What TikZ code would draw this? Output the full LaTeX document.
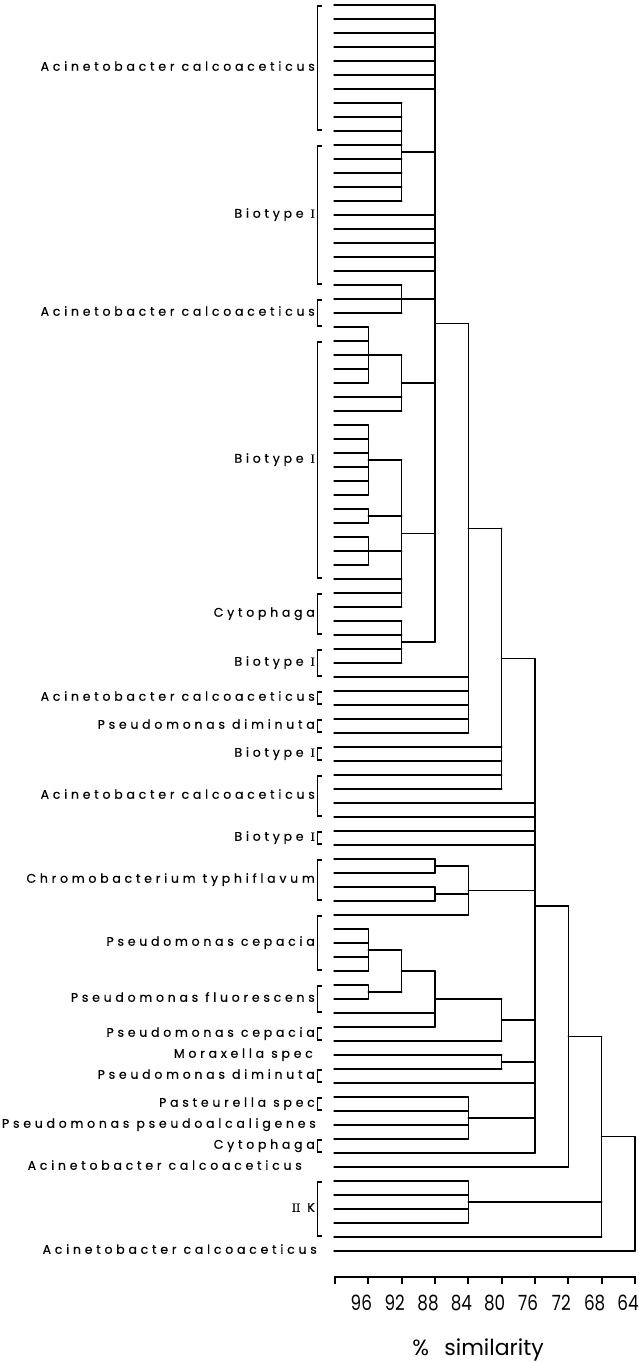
\documentclass[tikz,border=0pt]{standalone}
\usepackage{fontspec}
\setmainfont{Poppins}
\newfontfamily\labfam[LetterSpace=30,FakeBold=0.5]{Poppins}
\newfontfamily\axfam[FakeStretch=0.8]{Poppins}
\newfontfamily\serI[FakeBold=0.5]{Liberation Serif}
\usetikzlibrary{calc}
\newcommand\labfont{\labfam\fontsize{12.5}{14}\selectfont}
\newcommand\axfont{\axfam\fontsize{21}{23}\selectfont}
% cluster: name, level, first child, last child, children
\newcommand\clus[5]{%
  \coordinate (#1) at ($(#3 -| #2)!0.5!(#4 -| #2)$);
  \draw[dl] (#3 -| #2) -- (#4 -| #2);
  \foreach \kid in {#5} {\draw[dl] (\kid) -- (\kid -| #2);}
}
% bracketed label: name, first leaf, last leaf, text
\newcommand\blab[4]{%
  \draw[bk] ($(L#2)+(-12,1)$) -- ($(L#2)+(-16.5,1)$) -- ($(L#3)+(-16.5,-1)$) -- ($(L#3)+(-12,-1)$);
  \node[lab] (#1) at ($(L#2)!0.5!(L#3)+(-19,0)$) {#4};
}
% plain label: name, leaf, right edge x, text
\newcommand\plab[4]{%
  \node[lab] (#1) at ($(L#2 -| 0,0)+(#3,0)$) {#4};
}
\begin{document}
\begin{tikzpicture}[x=1pt,y=-1pt,
  dl/.style={line width=1.5pt,line cap=round,line join=round},
  bk/.style={line width=1.3pt},
  lab/.style={anchor=mid east,inner sep=0pt,font=\labfont},
  ax/.style={font=\axfont,inner sep=0pt}]
\useasboundingbox (0,0) rectangle (638,1362);
% leaves
\foreach \i in {0,...,89} {\coordinate (L\i) at (334,{5+14*\i});}
% similarity levels
\coordinate (v96) at (368.3,0);
\coordinate (v92) at (401.7,0);
\coordinate (v88) at (435,0);
\coordinate (v84) at (468.3,0);
\coordinate (v80) at (501.7,0);
\coordinate (v76) at (535,0);
\coordinate (v72) at (568.3,0);
\coordinate (v68) at (601.7,0);
\coordinate (v64) at (635,0);
% clusters
\clus{P}{v92}{L7}{L14}{L7,L8,L9,L10,L11,L12,L13,L14}
\clus{Q}{v92}{L20}{L22}{L20,L21,L22}
\clus{A96}{v96}{L23}{L27}{L23,L24,L25,L26,L27}
\clus{A}{v92}{A96}{L29}{A96,L28,L29}
\clus{B1}{v96}{L30}{L35}{L30,L31,L32,L33,L34,L35}
\clus{B2}{v96}{L36}{L37}{L36,L37}
\clus{B3}{v96}{L38}{L40}{L38,L39,L40}
\clus{B}{v92}{B1}{L43}{B1,B2,B3,L41,L42,L43}
\clus{C}{v92}{L44}{L47}{L44,L45,L46,L47}
\clus{G88}{v88}{L0}{C}{L0,L1,L2,L3,L4,L5,L6,P,L15,L16,L17,L18,L19,Q,A,B,C}
\clus{G84}{v84}{G88}{L52}{G88,L48,L49,L50,L51,L52}
\clus{G80}{v80}{G84}{L56}{G84,L53,L54,L55,L56}
\clus{Ch1}{v88}{L61}{L62}{L61,L62}
\clus{Ch2}{v88}{L63}{L64}{L63,L64}
\clus{Ch}{v84}{Ch1}{L65}{Ch1,Ch2,L65}
\clus{Pc}{v96}{L66}{L69}{L66,L67,L68,L69}
\clus{Pf}{v96}{L70}{L71}{L70,L71}
\clus{P92}{v92}{Pc}{Pf}{Pc,Pf}
\clus{P88}{v88}{P92}{L73}{P92,L72,L73}
\clus{P80}{v80}{P88}{L74}{P88,L74}
\clus{M80}{v80}{L75}{L76}{L75,L76}
\clus{Pa}{v84}{L78}{L81}{L78,L79,L80,L81}
\clus{G76}{v76}{G80}{L82}{G80,L57,L58,L59,L60,Ch,P80,M80,L77,Pa,L82}
\clus{G72}{v72}{G76}{L83}{G76,L83}
\clus{K}{v84}{L84}{L87}{L84,L85,L86,L87}
\clus{G68}{v68}{G72}{L88}{G72,K,L88}
\clus{G64}{v64}{G68}{L89}{G68,L89}
% labels
\blab{t1}{0}{9}{Acinetobacter calcoaceticus}
\blab{t2}{10}{20}{Biotype {\serI I}}
\blab{t3}{21}{23}{Acinetobacter calcoaceticus}
\blab{t4}{24}{41}{Biotype {\serI I}}
\blab{t5}{42}{45}{Cytophaga}
\blab{t6}{46}{48}{Biotype {\serI I}}
\blab{t7}{49}{50}{Acinetobacter calcoaceticus}
\blab{t8}{51}{52}{Pseudomonas diminuta}
\blab{t9}{53}{54}{Biotype {\serI I}}
\blab{t10}{55}{58}{Acinetobacter calcoaceticus}
\blab{t11}{59}{60}{Biotype {\serI I}}
\blab{t12}{61}{64}{Chromobacterium typhiflavum}
\blab{t13}{65}{69}{Pseudomonas cepacia}
\blab{t14}{70}{72}{Pseudomonas fluorescens}
\blab{t15}{73}{74}{Pseudomonas cepacia}
\plab{t16}{75}{313}{Moraxella spec}
\blab{t17}{76}{77}{Pseudomonas diminuta}
\blab{t18}{78}{79}{Pasteurella spec}
\plab{t19}{80}{316}{Pseudomonas pseudoalcaligenes}
\blab{t20}{81}{82}{Cytophaga}
\plab{t21}{83}{302}{Acinetobacter calcoaceticus}
\blab{t22}{84}{88}{{\serI II} K}
\plab{t23}{89}{317}{Acinetobacter calcoaceticus}
% axis
\coordinate (ax0) at (335,1277);
\coordinate (ax1) at (635,1277);
\draw[line width=2.6pt] (ax0) -- (ax1);
\foreach \k in {0,...,9} {\draw[line width=1.7pt] ($(ax0)+({\k*33.333},-1)$) -- ++(0,8);}
\foreach \v [count=\k] in {96,92,88,84,80,76,72,68,64}
  {\node[ax] (n\v) at ({328+\k*33.333},1303) {\v};}
\node[font=\fontsize{22}{24}\selectfont,inner sep=0pt] (xlab) at (478,1350) {\%\hspace{0.7em}similarity};
\end{tikzpicture}
\end{document}
